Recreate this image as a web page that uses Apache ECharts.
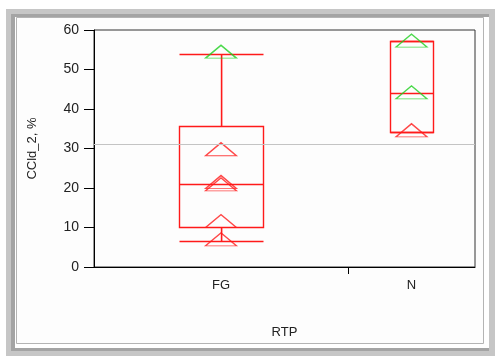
<!DOCTYPE html>
<html>
<head>
<meta charset="utf-8">
<script src="https://cdn.jsdelivr.net/npm/echarts@6/dist/echarts.min.js"></script>
<style>html,body{margin:0;padding:0;background:#fff}#c{width:495px;height:356px}</style>
</head>
<body>
<div id="c"></div>
<script>
// ---- data ----
const categories = ['FG', 'N'];
const catPos = [2, 5];              // positions on the hidden numeric x scale
const xTickPos = [4];
const boxMin = [6.6, 34.3];
const boxQ1 = [10.2, 34.3];
const boxMed = [20.9, 44.0];
const boxQ3 = [35.7, 57.1];
const boxMax = [54.0, 57.1];
const redPointsFG = [29.3, 21.0, 20.4, 11.1, 6.5];
const greenPointsFG = [54.0];
const redPointsN = [34.1];
const greenPointsN = [56.8, 43.7];
const refLineValue = 31;
const yTicks = [0, 10, 20, 30, 40, 50, 60];

// ---- styles ----
const RED = '#ff1a1a';
const GREEN = '#1ed01e';
const boxWidthsPx = [84, 43];

const boxData = categories.map((c, i) => [catPos[i], boxMin[i], boxQ1[i], boxMed[i], boxQ3[i], boxMax[i]]);
const redData = redPointsFG.map(v => [catPos[0], v]).concat(redPointsN.map(v => [catPos[1], v]));
const greenData = greenPointsFG.map(v => [catPos[0], v]).concat(greenPointsN.map(v => [catPos[1], v]));

const chart = echarts.init(document.getElementById('c'), null, {renderer: 'canvas'});
const px = v => Math.round(v) + 0.5;

function renderBox(params, api) {
  const x = api.value(0);
  const pMin = api.coord([x, api.value(1)]);
  const pQ1 = api.coord([x, api.value(2)]);
  const pMed = api.coord([x, api.value(3)]);
  const pQ3 = api.coord([x, api.value(4)]);
  const pMax = api.coord([x, api.value(5)]);
  const w = boxWidthsPx[params.dataIndex];
  const cx = Math.round(pMed[0]);
  const l = Math.round(pMed[0] - w / 2) + 0.5, r = Math.round(pMed[0] + w / 2) + 0.5;
  const hseg = (y) => ({type: 'polyline', shape: {points: [[l, y], [r, y]]},
    style: {stroke: RED, lineWidth: 1.4, fill: 'none'}});
  const vseg = (y1, y2) => {
    const a = Math.round(Math.min(y1, y2)), b = Math.round(Math.max(y1, y2));
    return {type: 'rect', shape: {x: cx - 0.2, y: a, width: 1.6, height: b - a},
      style: {fill: RED, stroke: 'none'}};
  };
  return {
    type: 'group',
    children: [
      {type: 'rect', shape: {x: l, y: px(pQ3[1]), width: r - l, height: px(pQ1[1]) - px(pQ3[1])},
        style: {stroke: RED, lineWidth: 1.4, fill: 'none'}},
      hseg(px(pMed[1])),
      vseg(pQ3[1], pMax[1]),
      vseg(pQ1[1], pMin[1]),
      hseg(px(pMax[1])),
      hseg(px(pMin[1]))
    ]
  };
}

const triStyle = (c) => ({color: 'rgba(0,0,0,0)', borderColor: c, borderWidth: 1.3});

chart.setOption({
  animation: false,
  backgroundColor: '#ffffff',
  textStyle: {fontFamily: 'Liberation Sans, Arial, sans-serif'},
  graphic: {elements: [
    {type: 'rect', z: -100, silent: true, shape: {x: 6, y: 9, width: 489, height: 347}, style: {fill: '#c6c6c6'}},
    {type: 'rect', z: -99, silent: true, shape: {x: 11, y: 14, width: 478, height: 337}, style: {fill: '#a4a4a4'}},
    {type: 'rect', z: -98, silent: true, shape: {x: 15, y: 17, width: 474, height: 331}, style: {fill: '#ffffff'}},
    {type: 'rect', z: -97, silent: true, shape: {x: 16.5, y: 17.5, width: 467, height: 326}, style: {fill: '#fdfdfd', stroke: '#b4b4b4', lineWidth: 1}}
  ]},
  grid: {left: 94, right: 20, top: 30, bottom: 89, show: true, borderColor: '#333', borderWidth: 1, backgroundColor: '#fdfdfd'},
  xAxis: {
    type: 'value', min: 0, max: 6,
    name: 'RTP', nameLocation: 'middle', nameGap: 59,
    nameTextStyle: {fontSize: 13, color: '#222'},
    axisLine: {show: true, onZero: false, lineStyle: {color: '#000', width: 1}},
    axisTick: {show: true, customValues: xTickPos, length: 7, lineStyle: {color: '#000'}},
    axisLabel: {show: true, customValues: catPos, margin: 12, fontSize: 13, color: '#222',
      formatter: v => { const i = catPos.indexOf(v); return i >= 0 ? categories[i] : ''; }},
    splitLine: {show: false}
  },
  yAxis: {
    type: 'value', min: 0, max: 60, interval: 10,
    name: 'CCld_2, %', nameLocation: 'middle', nameGap: 55, nameRotate: 90,
    nameTextStyle: {fontSize: 13, color: '#222'},
    axisLine: {show: true, lineStyle: {color: '#000', width: 1}},
    axisTick: {show: true, length: 10, lineStyle: {color: '#000'}},
    axisLabel: {margin: 15, fontSize: 14, color: '#222',
      formatter: v => yTicks.includes(v) ? String(v) : ''},
    splitLine: {show: false}
  },
  series: [
    {
      type: 'custom', renderItem: renderBox, data: boxData,
      encode: {x: 0, y: [1, 2, 3, 4, 5]}, z: 3,
      markLine: {silent: true, symbol: ['none', 'none'], label: {show: false},
        lineStyle: {color: '#c4c4c4', width: 1, type: 'solid'},
        data: [{yAxis: refLineValue}]}
    },
    {type: 'scatter', data: redData, symbol: 'triangle', symbolSize: [31, 13], symbolOffset: [0, -2],
      itemStyle: triStyle(RED), z: 4},
    {type: 'scatter', data: greenData, symbol: 'triangle', symbolSize: [31, 13], symbolOffset: [0, -2],
      itemStyle: triStyle(GREEN), z: 5}
  ]
});
</script>
</body>
</html>
